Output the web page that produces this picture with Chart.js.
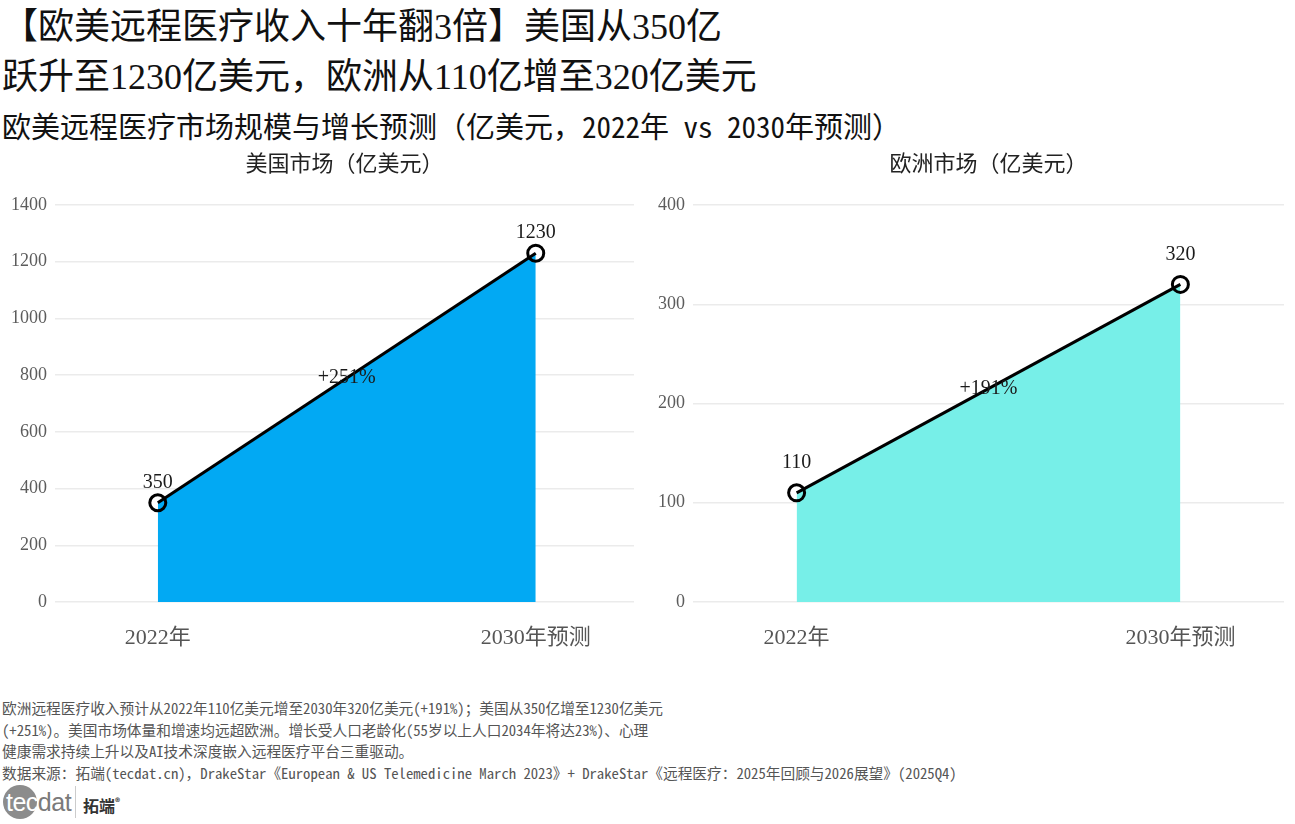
<!DOCTYPE html>
<html>
<head>
<meta charset="utf-8">
<script src="https://cdn.jsdelivr.net/npm/chart.js@4/dist/chart.umd.min.js"></script>
<style>
  body { margin: 0; width: 1295px; height: 824px; background: #fff; position: relative; overflow: hidden;
         font-family: "Liberation Serif", "Noto Sans CJK SC", serif; color: #111; }
  .t { position: absolute; left: 2px; white-space: nowrap; }
  .mono { font-family: "Noto Sans Mono CJK SC", "Liberation Serif", "Noto Sans CJK SC", serif; }
  .panel { position: absolute; top: 145px; }
  .note { position: absolute; left: 2px; top: 697px; font-size: 14.7px; line-height: 21.5px; color: #555; white-space: nowrap; }
  .logo { position: absolute; left: 3px; top: 784px; height: 36px; }
</style>
</head>
<body>
<div class="t" style="top:5px;font-size:36px;line-height:44px;">【欧美远程医疗收入十年翻3倍】美国从350亿</div>
<div class="t" style="top:55px;font-size:36px;line-height:44px;">跃升至1230亿美元，欧洲从110亿增至320亿美元</div>
<div class="t mono" style="top:107px;font-size:29px;line-height:36px;">欧美远程医疗市场规模与增长预测（亿美元，2022年 vs 2030年预测）</div>

<div class="panel" style="left:0;"><canvas id="usChart" width="645" height="520"></canvas></div>
<div class="panel" style="left:645px;"><canvas id="euChart" width="650" height="520"></canvas></div>

<div class="note mono">
  欧洲远程医疗收入预计从2022年110亿美元增至2030年320亿美元(+191%)；美国从350亿增至1230亿美元<br>
  (+251%)。美国市场体量和增速均远超欧洲。增长受人口老龄化(55岁以上人口2034年将达23%)、心理<br>
  健康需求持续上升以及AI技术深度嵌入远程医疗平台三重驱动。<br>
  数据来源：拓端(tecdat.cn)，DrakeStar《European &amp; US Telemedicine March 2023》+ DrakeStar《远程医疗：2025年回顾与2026展望》(2025Q4)
</div>

<div class="logo">
  <div style="position:absolute;left:0;top:1px;width:34px;height:34px;border-radius:50%;background:#8c8c8c;"></div>
  <div style="position:absolute;left:3px;top:2px;font-family:'Liberation Sans Narrow','Liberation Sans',sans-serif;font-size:25px;line-height:32px;letter-spacing:-0.5px;">
    <span style="color:#fff;">tec</span><span style="color:#7a7a7a;">dat</span>
  </div>
  <div style="position:absolute;left:72px;top:2px;width:1px;height:32px;background:#ccc;"></div>
  <div style="position:absolute;left:80px;top:6px;font-family:'Noto Sans CJK SC';font-weight:bold;font-size:16px;line-height:24px;color:#333;white-space:nowrap;">拓端<sup style="font-size:10px;">®</sup></div>
</div>

<script>
// categories and values
const categories = ["2022年", "2030年预测"];
const usValues = [350, 1230];
const euValues = [110, 320];
const usTicks = [0, 200, 400, 600, 800, 1000, 1200, 1400];
const euTicks = [0, 100, 200, 300, 400];

const FONT = '"Liberation Serif", "Noto Sans CJK SC", serif';

function growthText(vals) {
  return "+" + Math.round((vals[1] - vals[0]) / vals[0] * 100) + "%";
}

// value labels, growth label and panel title drawn on top of the chart
const panelLabels = {
  id: "panelLabels",
  afterDatasetsDraw(chart, args, opts) {
    const ctx = chart.ctx;
    const area = chart.chartArea;
    const pts = chart.getDatasetMeta(0).data;
    const vals = opts.values;
    ctx.save();
    ctx.textAlign = "center";
    ctx.textBaseline = "middle";
    ctx.fillStyle = "#1a1a1a";
    ctx.font = "20px " + FONT;
    pts.forEach((p, i) => ctx.fillText(String(vals[i]), p.x, p.y - opts.labelOffset));
    ctx.fillText(growthText(vals), (pts[0].x + pts[1].x) / 2, (pts[0].y + pts[1].y) / 2);
    ctx.fillStyle = "#222";
    ctx.font = "22px " + FONT;
    ctx.fillText(opts.title, (area.left + area.right) / 2, 20);
    ctx.restore();
  }
};

function makeChart(id, title, values, ticks, fillColor, yWidth, padRight, labelOffset, xMin, xMax) {
  const ctx = document.getElementById(id).getContext("2d");
  return new Chart(ctx, {
    type: "line",
    data: {
      datasets: [{
        data: values.map((v, i) => ({ x: i, y: v })),
        borderColor: "#000",
        borderWidth: 3,
        backgroundColor: fillColor,
        fill: "origin",
        tension: 0,
        pointRadius: 8,
        pointHoverRadius: 8,
        pointBorderWidth: 3,
        pointBorderColor: "#000",
        pointBackgroundColor: "rgba(0,0,0,0)"
      }]
    },
    options: {
      responsive: false,
      animation: false,
      layout: { padding: { top: 60, right: padRight, bottom: 0, left: 0 } },
      plugins: {
        legend: { display: false },
        tooltip: { enabled: false },
        panelLabels: { title: title, values: values, labelOffset: labelOffset }
      },
      scales: {
        x: {
          type: "linear",
          min: xMin,
          max: xMax,
          afterBuildTicks: axis => { axis.ticks = categories.map((c, i) => ({ value: i })); },
          afterFit: axis => { axis.height = 63; },
          grid: { display: false, drawTicks: false },
          border: { display: false },
          ticks: {
            padding: 23,
            color: "#555",
            font: { size: 22, family: FONT },
            callback: v => categories[v]
          }
        },
        y: {
          min: ticks[0],
          max: ticks[ticks.length - 1],
          afterBuildTicks: axis => { axis.ticks = ticks.map(t => ({ value: t })); },
          afterFit: axis => { axis.width = yWidth; },
          grid: { color: "#ebebeb", lineWidth: 1.5, drawTicks: false },
          border: { display: false },
          ticks: {
            padding: 8,
            color: "#5c5c5c",
            font: { size: 18, family: FONT },
            callback: v => String(v)
          }
        }
      }
    },
    plugins: [panelLabels]
  });
}

makeChart("usChart", "美国市场（亿美元）", usValues, usTicks, "#02a9f3", 55, 5, 20, -0.272, 1.26);
makeChart("euChart", "欧洲市场（亿美元）", euValues, euTicks, "#77efe8", 48, 9, 30, -0.27, 1.27);
</script>
</body>
</html>
